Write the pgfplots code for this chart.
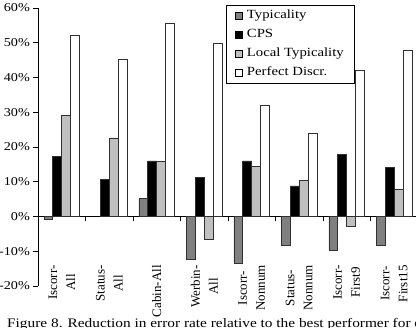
\documentclass[border=0pt]{standalone}
\usepackage{fontspec}
\setmainfont[FakeStretch=1.18]{Liberation Serif}
\newfontfamily\rotfont{Liberation Serif}
\usepackage{pgfplots}
\pgfplotsset{compat=1.18}
\definecolor{typ}{HTML}{808080}
\definecolor{loc}{HTML}{C0C0C0}
\definecolor{bord}{HTML}{303030}
\begin{document}
\fontsize{12}{14}\selectfont
\begin{tikzpicture}
\clip (0pt,0pt) rectangle (416pt,-328pt);
\begin{axis}[
  at={(38pt,-286pt)}, anchor=south west,
  scale only axis, width=380pt, height=278pt,
  xmin=-0.5, xmax=7.5, ymin=-20, ymax=60,
  axis y line*=left, axis x line*=middle,
  tick align=outside, major tick length=5pt,
  ytick={-20,-10,...,60},
  yticklabel={\pgfmathprintnumber{\tick}\%},
  /pgf/number format/assume math mode=true,
  yticklabel style={font=\fontsize{12}{14}\selectfont, xshift=1pt},
  xtick={0.5,1.5,...,6.5}, xticklabels={},
  every tick/.style={black, line width=0.7pt},
  axis line style={black, line width=0.8pt},
  ybar=0pt, bar width=8.9pt,
  every axis plot post/.append style={draw=bord, line width=0.7pt,
    legend image code/.code={\draw[##1, draw=black, line width=0.6pt] (0pt,-3.2pt) rectangle (6.5pt,3.2pt);}},
  legend style={at={(0.4947,1.0108)}, anchor=north west, draw=black, line width=0.7pt,
    inner xsep=9pt, inner ysep=3.5pt, row sep=5pt, column sep=3pt,
    nodes={inner sep=1.5pt, text height=8.5pt, text depth=2.5pt},
    font=\fontsize{12.5}{14}\selectfont},
  legend cell align=left,
  clip=false,
]
\addplot[fill=typ] coordinates {(0,-0.8) (2,5.1) (3,-12.2) (4,-13.6) (5,-8.3) (6,-9.7) (7,-8.4)};
\addplot[fill=black] coordinates {(0,17.3) (1,10.6) (2,16.0) (3,11.3) (4,16.0) (5,8.8) (6,17.9) (7,14.2)};
\addplot[fill=loc] coordinates {(0,29.0) (1,22.6) (2,15.9) (3,-6.5) (4,14.5) (5,10.5) (6,-2.9) (7,7.9)};
\addplot[fill=white] coordinates {(0,52.2) (1,45.3) (2,55.5) (3,49.7) (4,31.9) (5,24.0) (6,42.0) (7,47.8)};
\legend{Typicality, CPS, Local Typicality, Perfect Discr.}
\begin{scope}[every node/.style={rotate=90, anchor=east, align=center, inner sep=0pt, font=\rotfont\fontsize{13}{18}\selectfont}]
\node at (axis cs:0,-14.0) {Iscorr-\\All};
\node at (axis cs:1,-14.0) {Status-\\All};
\node at (axis cs:2,-14.0) {Cabin-All};
\node at (axis cs:3,-14.0) {Werbin-\\All};
\node at (axis cs:4,-14.0) {Iscorr-\\Nonnum};
\node at (axis cs:5,-14.0) {Status-\\Nonnum};
\node at (axis cs:6,-14.0) {Iscorr-\\First9};
\node at (axis cs:7,-14.0) {Iscorr-\\First15};
\end{scope}
\end{axis}
\node[anchor=base west, inner sep=0pt, font=\fontsize{13}{15}\selectfont] at (7pt,-328pt) {Figure 8. Reduction in error rate relative to the best performer for each};
\end{tikzpicture}
\end{document}
